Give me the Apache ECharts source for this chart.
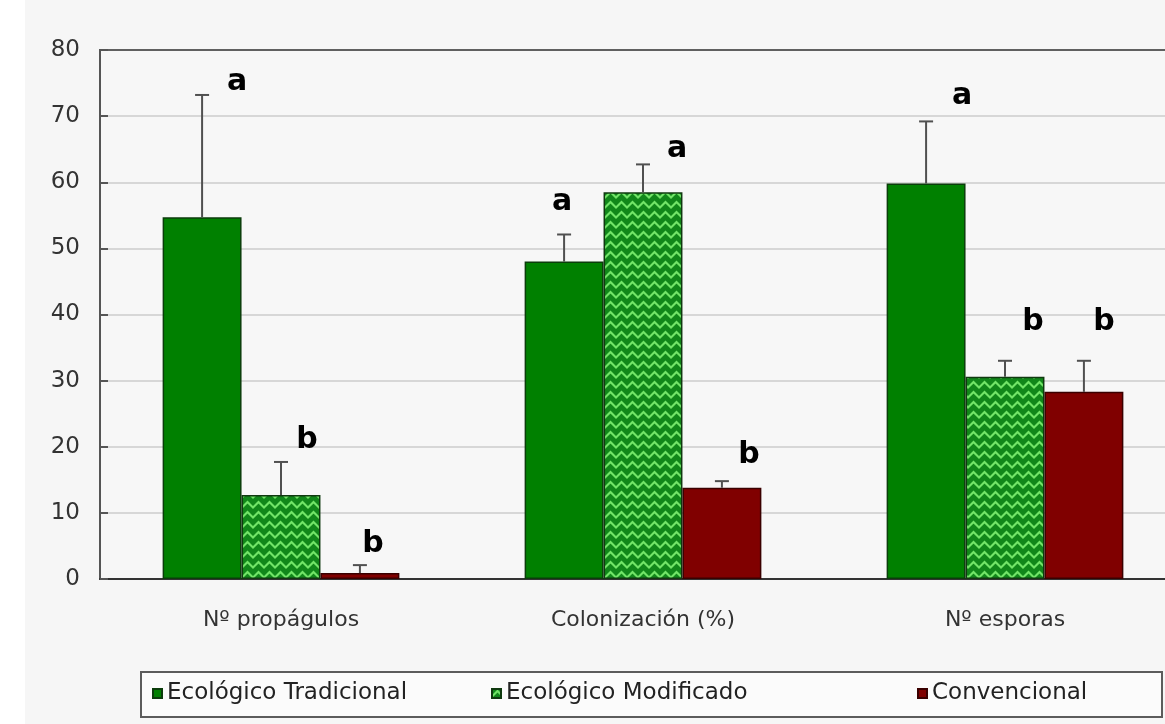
<!DOCTYPE html>
<html>
<head>
<meta charset="utf-8">
<title>Propágulos, colonización y esporas</title>
<script src="https://cdn.jsdelivr.net/npm/echarts@6/dist/echarts.min.js"></script>
<style>
  html, body { margin: 0; padding: 0; background: #f6f6f6; }
  #chart { width: 1165px; height: 724px; }
</style>
</head>
<body>
<div id="chart"></div>
<script>
// Categories and treatment means
const categories = ['Nº propágulos', 'Colonización (%)', 'Nº esporas'];
const seriesNames = ['Ecológico Tradicional', 'Ecológico Modificado', 'Convencional'];
const tradicional = [54.7, 48.0, 59.8];
const modificado = [12.7, 58.5, 30.6];
const convencional = [0.9, 13.8, 28.3];

// Error (upper bar length) for each mean
const errTradicional = [18.5, 4.1, 9.4];
const errModificado = [5.0, 4.2, 2.4];
const errConvencional = [1.2, 1.0, 4.7];

// Significance letters
const letrasTradicional = ['a', 'a', 'a'];
const letrasModificado = ['b', 'a', 'b'];
const letrasConvencional = ['b', 'b', 'b'];

// Y axis ticks
const yMin = 0, yMax = 80, yStep = 10;

// Letter placement (pixel offset from the top of each error bar)
const letterOffsets = [
  { dx: [35, -2, 36], dy: [-13, -32, -25] },
  { dx: [26, 34, 28], dy: [-22, -15, -39] },
  { dx: [13, 27, 20], dy: [-21, -26, -39] }
];

const BAR_FRACTION = 0.218;

function zigzagPattern() {
  const c = document.createElement('canvas');
  c.width = 11; c.height = 10;
  const ctx = c.getContext('2d');
  ctx.fillStyle = '#11871a';
  ctx.fillRect(0, 0, 11, 10);
  ctx.strokeStyle = '#72e468';
  ctx.lineWidth = 2.2;
  ctx.beginPath();
  ctx.moveTo(-5.5, 2); ctx.lineTo(0, 7.5); ctx.lineTo(5.5, 2); ctx.lineTo(11, 7.5); ctx.lineTo(16.5, 2);
  ctx.stroke();
  return c;
}

const fills = [
  { color: '#008000', borderColor: '#0b3d0b' },
  { color: { image: zigzagPattern(), repeat: 'repeat' }, borderColor: '#103a10' },
  { color: '#800000', borderColor: '#3a0000' }
];

const means = [tradicional, modificado, convencional];
const errs = [errTradicional, errModificado, errConvencional];
const letters = [letrasTradicional, letrasModificado, letrasConvencional];

function barSeries(k) {
  return {
    name: seriesNames[k],
    type: 'bar',
    data: means[k],
    barWidth: (BAR_FRACTION * 100) + '%',
    barGap: '0%',
    itemStyle: { color: fills[k].color, borderColor: fills[k].borderColor, borderWidth: 1.5 },
    z: 2
  };
}

function errorSeries(k) {
  const data = categories.map((c, i) => [i, means[k][i], errs[k][i], i]);
  return {
    type: 'custom',
    data: data,
    encode: { x: 0, y: 1 },
    z: 5,
    silent: true,
    clip: false,
    renderItem: function (params, api) {
      const idx = api.value(3);
      const mean = api.value(1);
      const top = mean + api.value(2);
      const band = api.size([1, 0])[0];
      const shift = (k - 1) * band * BAR_FRACTION;
      const base = api.coord([api.value(0), mean]);
      const tip = api.coord([api.value(0), top]);
      const x = base[0] + shift;
      const cap = 7;
      const stroke = { stroke: '#505050', lineWidth: 2 };
      return {
        type: 'group',
        children: [
          { type: 'line', shape: { x1: x, y1: base[1], x2: x, y2: tip[1] }, style: stroke },
          { type: 'line', shape: { x1: x - cap, y1: tip[1], x2: x + cap, y2: tip[1] }, style: stroke },
          {
            type: 'text',
            style: {
              x: x + letterOffsets[k].dx[idx],
              y: tip[1] + letterOffsets[k].dy[idx],
              text: letters[k][idx],
              fill: '#000',
              font: 'bold 30px "DejaVu Sans", sans-serif',
              align: 'center',
              verticalAlign: 'middle'
            }
          }
        ]
      };
    }
  };
}

const chart = echarts.init(document.getElementById('chart'), null, { renderer: 'canvas' });

const legendLefts = [152, 491, 917];
// split line colours: light guides, dark frame line at the top value
const splitColors = ['#cccccc', '#cccccc', '#cccccc', '#cccccc', '#cccccc', '#cccccc', '#cccccc', '#cccccc', '#606060'];

chart.setOption({
  backgroundColor: '#f6f6f6',
  animation: false,
  graphic: [
    { type: 'rect', left: 0, top: 0, shape: { width: 25, height: 724 }, style: { fill: '#ffffff' }, z: -10 },
    { type: 'rect', shape: { x: 141, y: 672, width: 1021, height: 45 }, style: { fill: '#fbfbfb', stroke: '#5c5c5c', lineWidth: 2 }, z: -5 }
  ],
  grid: {
    left: 100, top: 50, width: 1086, bottom: 145,
    outerBoundsMode: 'none',
    show: true, borderColor: '#606060', borderWidth: 2, backgroundColor: '#f7f7f7'
  },
  legend: seriesNames.map((n, k) => ({
    data: [n],
    left: legendLefts[k],
    top: 682,
    padding: 0,
    itemWidth: 9,
    itemHeight: 9,
    icon: 'rect',
    textStyle: { fontFamily: '"DejaVu Sans", sans-serif', fontSize: 23, color: '#222' }
  })),
  xAxis: {
    type: 'category',
    data: categories,
    axisLine: { lineStyle: { color: '#333', width: 2 } },
    axisTick: { show: false },
    axisLabel: { margin: 30, fontFamily: '"DejaVu Sans", sans-serif', fontSize: 22, color: '#333' },
    splitLine: { show: false }
  },
  yAxis: {
    type: 'value',
    min: yMin, max: yMax, interval: yStep,
    axisLine: { show: true, lineStyle: { color: '#555', width: 2 } },
    axisTick: { show: true, inside: true, length: 8, lineStyle: { color: '#555', width: 2 } },
    axisLabel: { margin: 20, fontFamily: '"DejaVu Sans", sans-serif', fontSize: 23, color: '#333' },
    splitLine: { show: true, lineStyle: { color: splitColors, width: 1.5 } }
  },
  series: [barSeries(0), barSeries(1), barSeries(2), errorSeries(0), errorSeries(1), errorSeries(2)]
});
</script>
</body>
</html>
